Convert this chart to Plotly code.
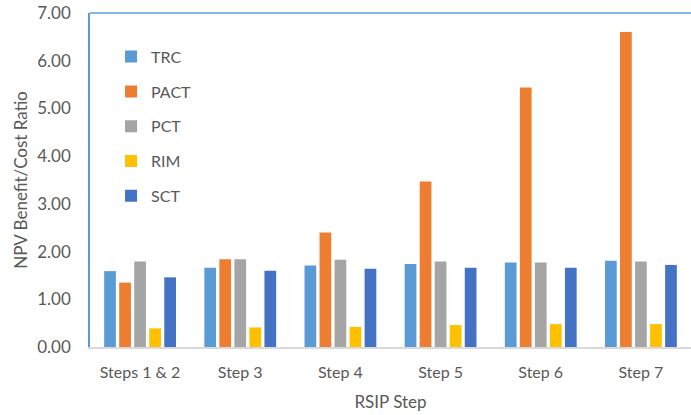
import plotly.graph_objects as go

steps = ["Steps 1 & 2", "Step 3", "Step 4", "Step 5", "Step 6", "Step 7"]
series_names = ["TRC", "PACT", "PCT", "RIM", "SCT"]
trc = [1.59, 1.66, 1.71, 1.74, 1.77, 1.81]
pact = [1.35, 1.84, 2.40, 3.47, 5.44, 6.60]
pct = [1.79, 1.84, 1.83, 1.79, 1.77, 1.79]
rim = [0.39, 0.41, 0.42, 0.46, 0.48, 0.48]
sct = [1.46, 1.60, 1.64, 1.66, 1.66, 1.72]
colors = ["#5B9BD5", "#ED7D31", "#A5A5A5", "#FFC000", "#4472C4"]

values = [trc, pact, pct, rim, sct]
text_color = "#595959"
font_family = "Lato, Open Sans, sans-serif"

fig = go.Figure()
for name, vals, col in zip(series_names, values, colors):
    fig.add_trace(go.Bar(
        x=steps, y=vals, name=name, marker_color=col,
        marker_line_width=0, legendgroup=name,
    ))

fig.update_layout(
    width=691, height=415,
    margin=dict(l=90, r=0, t=13, b=68),
    paper_bgcolor="white", plot_bgcolor="white",
    barmode="group", bargap=0.25, bargroupgap=0.22,
    font=dict(family=font_family, color=text_color, size=16),
    legend=dict(
        x=0.035, y=0.92, xanchor="left", yanchor="top",
        bgcolor="rgba(0,0,0,0)", traceorder="grouped",
        tracegroupgap=11, font=dict(size=16, color=text_color),
        itemwidth=30,
    ),
    showlegend=True,
)

fig.update_xaxes(
    showline=True, linecolor="#D9D9D9", linewidth=1.5,
    ticks="", showgrid=False, ticklabelstandoff=10,
    tickfont=dict(size=16, color=text_color),
    title=dict(text="RSIP Step", font=dict(size=17, color=text_color), standoff=16),
)
fig.update_yaxes(
    range=[0, 7], dtick=1, tickformat=".2f",
    showline=True, linecolor="#5B9BD5", linewidth=1.5,
    ticks="", showgrid=False, zeroline=False, ticklabelstandoff=14,
    tickfont=dict(size=17, color=text_color),
    title=dict(text="NPV Benefit/Cost Ratio", font=dict(size=17, color=text_color), standoff=5),
)

# Top border of the plotting area
fig.add_shape(type="line", xref="paper", yref="paper", x0=0, x1=1, y0=1, y1=1,
              line=dict(color="#5B9BD5", width=1.5))

fig.write_html("out.html")
